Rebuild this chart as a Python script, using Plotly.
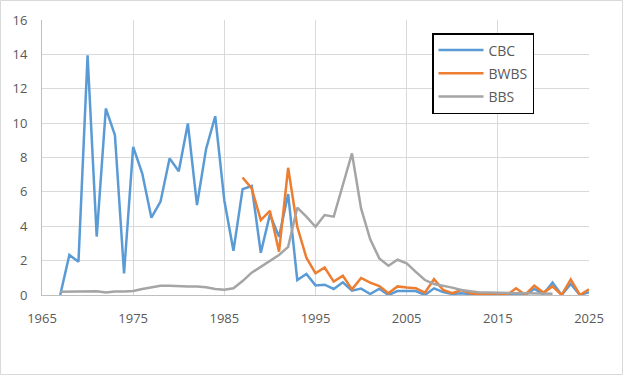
import plotly.graph_objects as go

cbc_years = list(range(1967, 2026))
cbc_values = [0, 2.33, 1.94, 13.95, 3.4, 10.85, 9.3, 1.26, 8.62, 7.07,
              4.5, 5.43, 7.95, 7.2, 9.98, 5.23, 8.5, 10.4, 5.5, 2.57,
              6.16, 6.34, 2.46, 4.69, 3.39, 5.87, 0.87, 1.22, 0.56, 0.6,
              0.35, 0.74, 0.25, 0.37, 0.06, 0.37, 0, 0.23, 0.23, 0.23,
              0, 0.39, 0.17, 0.06, 0.1, 0.05, 0, 0, 0.1, 0,
              0, 0, 0.35, 0.06, 0.72, 0, 0.64, 0, 0.17]

bwbs_years = list(range(1987, 2026))
bwbs_values = [6.84, 6.2, 4.36, 4.9, 2.52, 7.4, 3.97, 2.17, 1.26, 1.6,
               0.78, 1.12, 0.33, 0.99, 0.72, 0.52, 0.1, 0.5, 0.43, 0.4,
               0.14, 0.92, 0.29, 0.1, 0.29, 0.1, 0.05, 0.05, 0.1, 0,
               0.39, 0.02, 0.54, 0.14, 0.5, 0, 0.91, 0, 0.33]

bbs_years = list(range(1967, 2022))
bbs_values = [0.19, 0.2, 0.2, 0.25, 0.22, 0.15, 0.2, 0.2, 0.23, 0.35,
              0.45, 0.54, 0.54, 0.5, 0.5, 0.5, 0.45, 0.35, 0.3, 0.39,
              0.81, 1.3, 1.65, 1.98, 2.33, 2.8, 5.08, 4.56, 3.97, 4.65,
              4.56, 6.4, 8.24, 5.04, 3.24, 2.13, 1.7, 2.05, 1.84, 1.35,
              0.87, 0.64, 0.54, 0.43, 0.29, 0.2, 0.15, 0.15, 0.12, 0.1,
              0.1, 0.1, 0.1, 0.1, 0.08]

x_ticks = [1965, 1975, 1985, 1995, 2005, 2015, 2025]
y_ticks = [0, 2, 4, 6, 8, 10, 12, 14, 16]

FONT = "Open Sans"
W, H = 624, 376
L, R, T, B = 42, 35, 20, 81

fig = go.Figure()
fig.add_trace(go.Scatter(x=cbc_years, y=cbc_values, mode="lines", name="CBC",
                         legendgroup="a", line=dict(color="#5B9BD5", width=2.5)))
fig.add_trace(go.Scatter(x=bwbs_years, y=bwbs_values, mode="lines", name="BWBS",
                         legendgroup="b", line=dict(color="#ED7D31", width=2.5)))
fig.add_trace(go.Scatter(x=bbs_years, y=bbs_values, mode="lines", name="BBS",
                         legendgroup="c", line=dict(color="#A5A5A5", width=2.5)))

pw = W - L - R
ph = H - T - B
fig.add_shape(type="rect", xref="paper", yref="paper",
              x0=(0.5 - L) / pw, x1=(W - 1.5 - L) / pw,
              y0=-(H - 1.5 - T - ph) / ph, y1=(T - 0.5) / ph + 1,
              line=dict(color="#D9D9D9", width=1), layer="below")

fig.update_layout(
    width=W, height=H,
    margin=dict(l=L, r=R, t=T, b=B),
    paper_bgcolor="white", plot_bgcolor="white",
    font=dict(family=FONT, size=13, color="#595959"),
    showlegend=True,
    legend=dict(x=(432 - L) / pw, y=(H - B - 33) / ph, xanchor="left", yanchor="top",
                bordercolor="black", borderwidth=1.5, bgcolor="white",
                font=dict(family=FONT, size=14, color="#595959"),
                tracegroupgap=2, itemwidth=45, entrywidth=55),
    xaxis=dict(range=[1965, 2025], tickvals=x_ticks, ticktext=[str(v) for v in x_ticks],
               showgrid=True, gridcolor="#D9D9D9", gridwidth=1,
               showline=True, linecolor="#BFBFBF", linewidth=1,
               ticks="outside", ticklen=11, tickcolor="rgba(0,0,0,0)",
               zeroline=False, tickfont=dict(size=13)),
    yaxis=dict(range=[0, 16], tickvals=y_ticks, ticktext=[str(v) for v in y_ticks],
               showgrid=True, gridcolor="#D9D9D9", gridwidth=1,
               showline=True, linecolor="#BFBFBF", linewidth=1,
               ticks="outside", ticklen=11, tickcolor="rgba(0,0,0,0)",
               zeroline=False, tickfont=dict(size=13)),
)

fig.write_html("out.html")
